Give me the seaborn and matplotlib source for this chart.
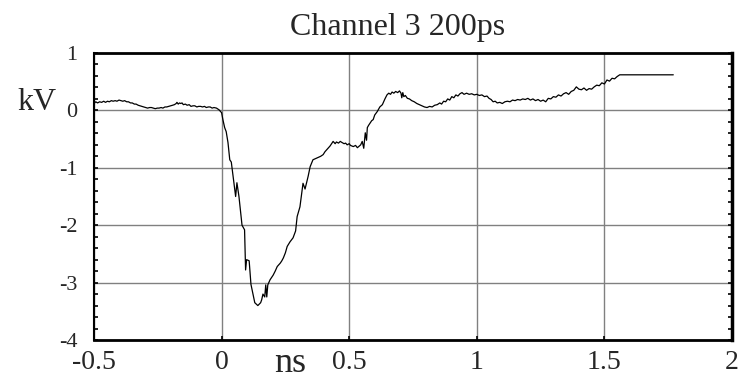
import numpy as np
import pandas as pd
import matplotlib
matplotlib.use("Agg")
import matplotlib.pyplot as plt
from matplotlib.ticker import MultipleLocator
import seaborn as sns

# Channel 3 waveform, 200 ps window (time in ns, amplitude in kV)
time_ns = [
    -0.500, -0.493, -0.486, -0.478, -0.470, -0.462, -0.455, -0.447, -0.440, -0.432,
    -0.425, -0.417, -0.410, -0.402, -0.395, -0.387, -0.380, -0.372, -0.365, -0.357,
    -0.350, -0.342, -0.335, -0.327, -0.320, -0.312, -0.305, -0.297, -0.290, -0.282,
    -0.275, -0.267, -0.260, -0.252, -0.245, -0.237, -0.230, -0.222, -0.215, -0.207,
    -0.200, -0.192, -0.185, -0.178, -0.175, -0.170, -0.165, -0.160, -0.155, -0.150,
    -0.142, -0.135, -0.127, -0.120, -0.112, -0.105, -0.097, -0.090, -0.082, -0.075,
    -0.067, -0.060, -0.052, -0.045, -0.037, -0.030, -0.020, -0.010, 0.000, 0.005,
    0.012, 0.018, 0.025, 0.032, 0.038, 0.045, 0.055, 0.060, 0.068, 0.080,
    0.090, 0.094, 0.098, 0.108, 0.115, 0.123, 0.130, 0.142, 0.153, 0.157,
    0.162, 0.169, 0.173, 0.177, 0.181, 0.190, 0.202, 0.210, 0.218, 0.230,
    0.236, 0.242, 0.250, 0.257, 0.268, 0.280, 0.290, 0.296, 0.307, 0.319,
    0.327, 0.339, 0.347, 0.358, 0.368, 0.378, 0.388, 0.398, 0.405, 0.413,
    0.425, 0.437, 0.445, 0.450, 0.458, 0.465, 0.472, 0.480, 0.486, 0.492,
    0.500, 0.505, 0.516, 0.525, 0.532, 0.540, 0.545, 0.551, 0.557, 0.563,
    0.568, 0.571, 0.576, 0.582, 0.588, 0.594, 0.600, 0.610, 0.620, 0.630,
    0.640, 0.648, 0.655, 0.662, 0.668, 0.675, 0.682, 0.690, 0.697, 0.703,
    0.706, 0.710, 0.714, 0.720, 0.728, 0.736, 0.745, 0.755, 0.765, 0.775,
    0.785, 0.795, 0.805, 0.815, 0.825, 0.835, 0.845, 0.855, 0.862, 0.870,
    0.878, 0.886, 0.894, 0.902, 0.910, 0.918, 0.926, 0.934, 0.942, 0.950,
    0.960, 0.970, 0.980, 0.990, 1.000, 1.010, 1.020, 1.030, 1.040, 1.048,
    1.056, 1.064, 1.072, 1.080, 1.090, 1.100, 1.110, 1.120, 1.130, 1.140,
    1.150, 1.160, 1.170, 1.180, 1.190, 1.200, 1.210, 1.220, 1.230, 1.240,
    1.250, 1.260, 1.270, 1.280, 1.290, 1.300, 1.310, 1.320, 1.330, 1.340,
    1.350, 1.360, 1.370, 1.380, 1.390, 1.400, 1.410, 1.420, 1.430, 1.440,
    1.450, 1.460, 1.470, 1.480, 1.490, 1.500, 1.510, 1.520, 1.530, 1.540,
    1.550, 1.560, 1.770,
]
voltage_kv = [
    0.12, 0.15, 0.13, 0.15, 0.14, 0.16, 0.14, 0.16, 0.15, 0.17,
    0.16, 0.17, 0.16, 0.18, 0.17, 0.16, 0.17, 0.15, 0.15, 0.13,
    0.13, 0.11, 0.11, 0.09, 0.08, 0.07, 0.06, 0.05, 0.04, 0.05,
    0.05, 0.04, 0.03, 0.04, 0.04, 0.05, 0.04, 0.06, 0.06, 0.07,
    0.08, 0.09, 0.10, 0.12, 0.14, 0.11, 0.13, 0.12, 0.13, 0.10,
    0.11, 0.09, 0.10, 0.07, 0.08, 0.08, 0.06, 0.07, 0.07, 0.06,
    0.07, 0.05, 0.06, 0.06, 0.04, 0.05, 0.04, 0.01, -0.04, -0.16,
    -0.30, -0.37, -0.56, -0.86, -0.90, -1.15, -1.50, -1.26, -1.50, -2.00,
    -2.08, -2.78, -2.60, -2.62, -3.03, -3.20, -3.35, -3.40, -3.35, -3.30,
    -3.20, -3.25, -3.04, -3.25, -3.04, -2.95, -2.87, -2.80, -2.72, -2.66,
    -2.62, -2.57, -2.48, -2.37, -2.29, -2.22, -2.10, -1.85, -1.68, -1.27,
    -1.37, -1.15, -0.98, -0.86, -0.84, -0.82, -0.80, -0.77, -0.72, -0.68,
    -0.62, -0.54, -0.58, -0.55, -0.57, -0.54, -0.56, -0.58, -0.57, -0.60,
    -0.58, -0.61, -0.63, -0.61, -0.65, -0.62, -0.60, -0.54, -0.66, -0.39,
    -0.52, -0.30, -0.26, -0.22, -0.18, -0.16, -0.08, -0.02, 0.06, 0.10,
    0.20, 0.27, 0.30, 0.28, 0.32, 0.30, 0.33, 0.31, 0.34, 0.30,
    0.22, 0.31, 0.24, 0.26, 0.21, 0.20, 0.17, 0.15, 0.12, 0.10,
    0.08, 0.06, 0.05, 0.07, 0.06, 0.09, 0.10, 0.13, 0.11, 0.16,
    0.15, 0.20, 0.18, 0.24, 0.22, 0.27, 0.25, 0.29, 0.31, 0.28,
    0.30, 0.28, 0.29, 0.27, 0.28, 0.26, 0.27, 0.24, 0.25, 0.21,
    0.19, 0.15, 0.16, 0.13, 0.14, 0.12, 0.15, 0.16, 0.15, 0.18,
    0.17, 0.19, 0.18, 0.20, 0.19, 0.21, 0.18, 0.20, 0.17, 0.19,
    0.16, 0.18, 0.15, 0.21, 0.20, 0.24, 0.23, 0.27, 0.25, 0.29,
    0.31, 0.28, 0.33, 0.35, 0.41, 0.37, 0.36, 0.39, 0.35, 0.38,
    0.37, 0.41, 0.44, 0.43, 0.48, 0.46, 0.53, 0.51, 0.56, 0.55,
    0.59, 0.62, 0.62,
]

x_ticks = [-0.5, 0, 0.5, 1, 1.5, 2]
x_tick_labels = ["-0.5", "0", "0.5", "1", "1.5", "2"]
y_ticks = [-4, -3, -2, -1, 0, 1]
y_tick_labels = ["-4", "-3", "-2", "-1", "0", "1"]

sns.set_style("white")
plt.rcParams["font.family"] = ["Liberation Serif", "DejaVu Serif"]
plt.rcParams["axes.unicode_minus"] = False

fig = plt.figure(figsize=(7.44, 3.82), dpi=100)
ax = fig.add_axes([94 / 744, 1 - 340 / 382, (732 - 94) / 744, (340 - 53) / 382])

df = pd.DataFrame({"t": time_ns, "v": voltage_kv})
sns.lineplot(data=df, x="t", y="v", ax=ax, color="black", linewidth=0.9,
             sort=False, estimator=None)

ax.set_xlim(-0.5, 2)
ax.set_ylim(-4, 1)
ax.set_xticks(x_ticks)
ax.set_xticklabels(x_tick_labels, fontsize=20)
ax.set_yticks(y_ticks)
ax.set_yticklabels(y_tick_labels, fontsize=16)
ax.yaxis.set_minor_locator(MultipleLocator(0.2))
ax.set_xlabel("")
ax.set_ylabel("")

ax.grid(True, which="major", color="#808080", linewidth=1.0)
ax.set_axisbelow(True)

for side, lw in [("left", 1.5), ("right", 2.5), ("top", 2.0), ("bottom", 2.0)]:
    ax.spines[side].set_visible(True)
    ax.spines[side].set_color("black")
    ax.spines[side].set_linewidth(lw)

ax.tick_params(axis="y", which="both", direction="in", left=True, right=True,
               length=3, width=1.2, color="black", pad=12)
ax.tick_params(axis="x", which="major", direction="in", bottom=True, top=False,
               length=3, width=1.2, color="black", pad=7)

fig.text(398 / 744, 1 - 27 / 382, "Channel 3 200ps", fontsize=23,
         va="center", ha="center")
fig.text(17 / 744, 1 - 103 / 382, "kV", fontsize=23, va="center", ha="left")
fig.text(290 / 744, 1 - 364 / 382, "ns", fontsize=26, va="center", ha="center")

fig.savefig("out.png", dpi=100)
